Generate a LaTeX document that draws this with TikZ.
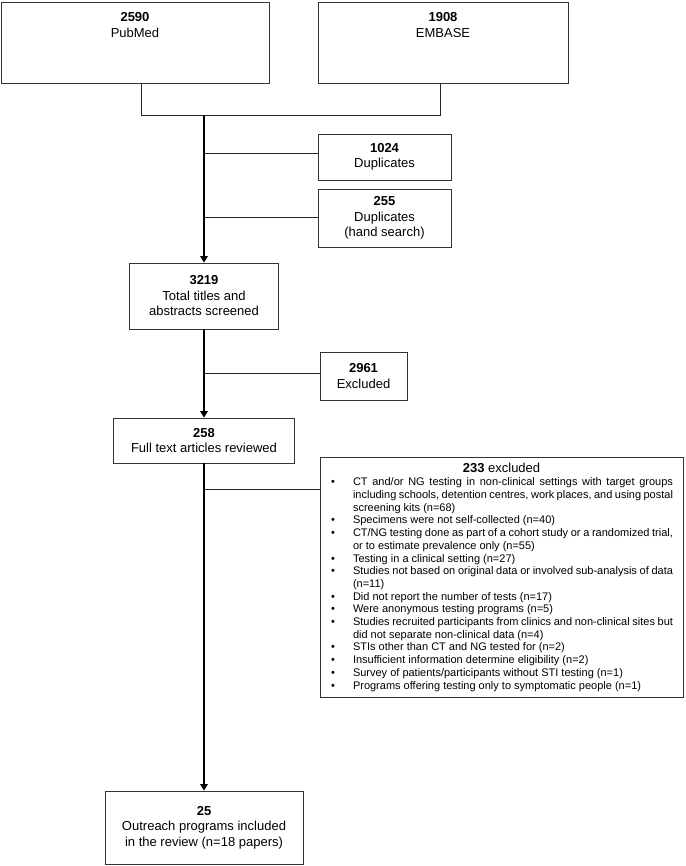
\documentclass[tikz,border=0pt]{standalone}
\usepackage{fontspec}
\setmainfont{Liberation Sans}
\usepackage{enumitem}
\usetikzlibrary{arrows.meta,positioning}
\begin{document}
\begin{tikzpicture}[x=1pt, y=1pt, >={Triangle[width=7.5pt,length=6.5pt]},
  box/.style={draw=black!80, line width=0.8pt, align=center, inner sep=0pt, font=\fontsize{13}{15.5}\selectfont},
  txt/.style={align=center, inner sep=0pt, font=\fontsize{13}{16}\selectfont},
  link/.style={draw=black!85, line width=0.8pt},
  trunk/.style={line width=1.4pt}]
\useasboundingbox (0,0) rectangle (685,-866);
\node[box, minimum width=268pt, minimum height=81pt] (pubmed) at (135,-42.5) {};
\node[txt, below=11pt of pubmed.north] (pubmedtxt) {\textbf{2590}\\PubMed};
\node[box, minimum width=250pt, minimum height=81pt] (embase) at (443,-42.5) {};
\node[txt, below=11pt of embase.north] (embasetxt) {\textbf{1908}\\EMBASE};
\node[box, minimum width=133pt, minimum height=46pt] (dup1) at (384.5,-157) {\textbf{1024}\\Duplicates};
\node[box, minimum width=133pt, minimum height=58pt] (dup2) at (384.5,-218) {\textbf{255}\\Duplicates\\(hand search)};
\node[box, minimum width=149pt, minimum height=66pt] (total) at (204,-296) {\textbf{3219}\\Total titles and\\abstracts screened};
\node[box, minimum width=87pt, minimum height=48pt] (excl) at (363.5,-376) {\textbf{2961}\\Excluded};
\node[box, minimum width=181pt, minimum height=45pt] (full) at (204,-440.5) {\textbf{258}\\Full text articles reviewed};
\node[box, text width=343pt, minimum height=240pt, inner xsep=10pt, align=justify, font=\fontsize{11}{12.7}\selectfont] (rej) at (501.5,-577) {%
\hyphenpenalty=10000\relax
{\centering\fontsize{13}{16}\selectfont\textbf{233} excluded\par}\vspace{1pt}
\begin{itemize}[nosep, leftmargin=23pt, labelindent=1pt, labelwidth=14pt, labelsep=8pt, align=left, label=\textbullet]
\item CT and/or NG testing in non-clinical settings with target groups\linebreak including schools, detention centres, work places, and using postal\linebreak screening kits (n=68)
\item Specimens were not self-collected (n=40)
\item CT/NG testing done as part of a cohort study or a randomized trial,\linebreak or to estimate prevalence only (n=55)
\item Testing in a clinical setting (n=27)
\item Studies not based on original data or involved sub-analysis of data\linebreak (n=11)
\item Did not report the number of tests (n=17)
\item Were anonymous testing programs (n=5)
\item Studies recruited participants from clinics and non-clinical sites but\linebreak did not separate non-clinical data (n=4)
\item STIs other than CT and NG tested for (n=2)
\item Insufficient information determine eligibility (n=2)
\item Survey of patients/participants without STI testing (n=1)
\item Programs offering testing only to symptomatic people (n=1)
\end{itemize}};
\node[box, minimum width=198pt, minimum height=73pt] (incl) at (204,-827.5) {\textbf{25}\\Outreach programs included\\in the review (n=18 papers)};
\coordinate (dl) at (141,-115);
\coordinate (dr) at (440,-115);
\coordinate (j0) at (204,-115);
\coordinate (b1) at (204,-153);
\coordinate (b2) at (204,-217);
\coordinate (b3) at (204,-373);
\coordinate (b4) at (204,-489);
\draw[link] (dl |- pubmed.south) -- (dl) -- (dr) -- (dr |- embase.south);
\draw[trunk,->] (j0) -- (total.north);
\draw[link] (b1) -- (b1 -| dup1.west);
\draw[link] (b2) -- (b2 -| dup2.west);
\draw[trunk,->] (total.south) -- (full.north);
\draw[link] (b3) -- (b3 -| excl.west);
\draw[trunk,->] (full.south) -- (incl.north);
\draw[link] (b4) -- (b4 -| rej.west);
\end{tikzpicture}
\end{document}
